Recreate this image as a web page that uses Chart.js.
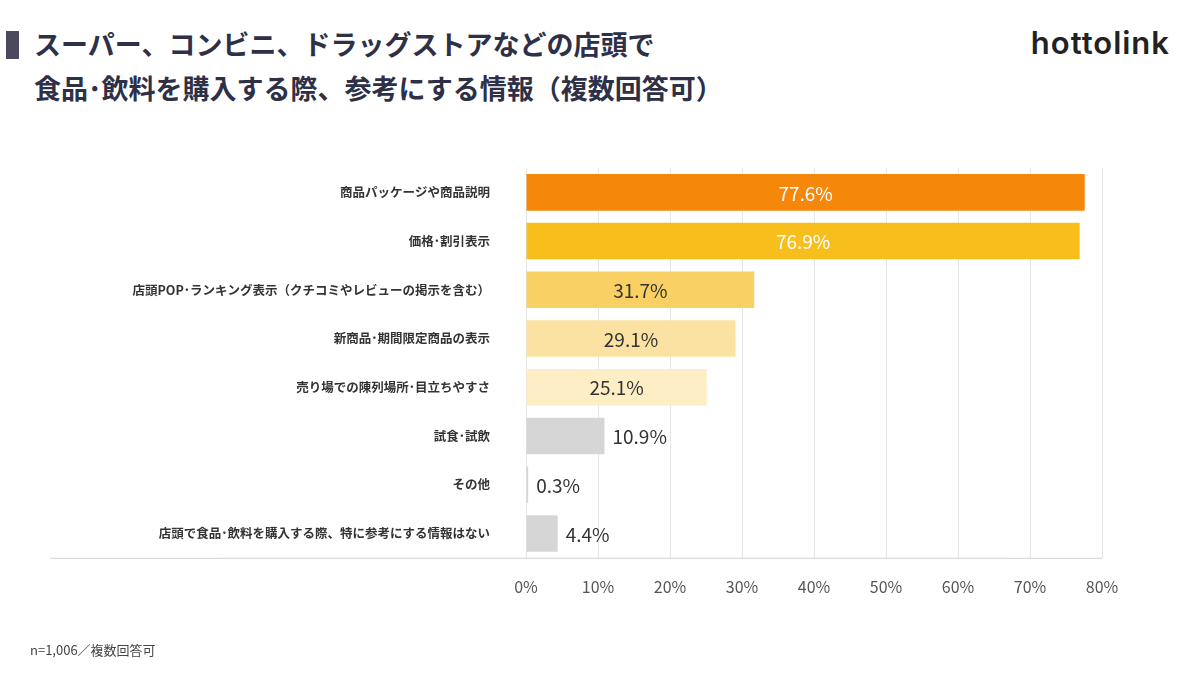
<!DOCTYPE html>
<html><head><meta charset="utf-8">
<script src="https://cdn.jsdelivr.net/npm/chart.js@4/dist/chart.umd.min.js"></script>
<style>
body{margin:0;background:#fff;font-family:"Noto Sans CJK JP",sans-serif;color:#2d3047}
#wrap{position:relative;width:1200px;height:675px;overflow:hidden}
#title{position:absolute;left:6px;top:22px;font-size:27px;font-weight:bold;line-height:44px;padding-left:28px}
#title:before{content:"";position:absolute;left:0;top:9px;width:13px;height:28px;background:#4a4a5c}
#logo{position:absolute;right:30px;top:24px;font-family:Inter,sans-serif;font-size:31px;font-weight:600;color:#222;letter-spacing:1px}
#note{position:absolute;left:30px;top:640px;font-size:13px;color:#444}
canvas{position:absolute;left:0;top:0}
</style></head><body>
<div id="wrap">
<div id="title">スーパー、コンビニ、ドラッグストアなどの店頭で<br>食品･飲料を購入する際、参考にする情報（複数回答可）</div>
<div id="logo">hottolink</div>
<canvas id="c" width="1200" height="675"></canvas>
<div id="note">n=1,006／複数回答可</div>
</div>
<script>
const categories = ['商品パッケージや商品説明','価格･割引表示','店頭POP･ランキング表示（クチコミやレビューの掲示を含む）','新商品･期間限定商品の表示','売り場での陳列場所･目立ちやすさ','試食･試飲','その他','店頭で食品･飲料を購入する際、特に参考にする情報はない'];
const values = [77.6, 76.9, 31.7, 29.1, 25.1, 10.9, 0.3, 4.4];
const barColors = ['#f5880a','#f8be1c','#f9d063','#fbe2a2','#fdeec6','#d6d6d6','#d6d6d6','#d6d6d6'];
const xTicks = [0,10,20,30,40,50,60,70,80];

const labelPlugin = {
  id: 'labels',
  afterDatasetsDraw(chart) {
    const ctx = chart.ctx;
    const meta = chart.getDatasetMeta(0);
    ctx.save();
    ctx.font = '19px "Noto Sans CJK JP"';
    ctx.textBaseline = 'middle';
    meta.data.forEach((bar, i) => {
      const txt = values[i].toFixed(1) + '%';
      const w = bar.x - bar.base;
      if (values[i] >= 20) {
        ctx.fillStyle = i < 2 ? '#fff' : '#333';
        ctx.textAlign = 'center';
        ctx.fillText(txt, bar.base + w / 2, bar.y + 1);
      } else {
        ctx.fillStyle = '#333';
        ctx.textAlign = 'left';
        ctx.fillText(txt, bar.x + 8, bar.y + 1);
      }
    });
    const a = chart.chartArea;
    ctx.strokeStyle = '#d0d0d0';
    ctx.lineWidth = 1;
    ctx.beginPath();
    ctx.moveTo(50, a.bottom + 0.5);
    ctx.lineTo(a.right, a.bottom + 0.5);
    ctx.stroke();
    ctx.restore();
  }
};

new Chart(document.getElementById('c'), {
  type: 'bar',
  data: {
    labels: categories,
    datasets: [{ data: values, backgroundColor: barColors, barPercentage: 0.75, categoryPercentage: 1 }]
  },
  options: {
    indexAxis: 'y',
    responsive: false,
    animation: false,
    layout: { padding: { top: 168, right: 98, bottom: 58, left: 0 } },
    plugins: { legend: { display: false }, tooltip: { enabled: false } },
    scales: {
      x: {
        min: 0, max: 80,
        afterBuildTicks: s => { s.ticks = xTicks.map(v => ({ value: v })); },
        grid: { color: '#e6e6e6', drawTicks: false },
        border: { display: false },
        ticks: { color: '#555', font: { size: 16, family: '"Noto Sans CJK JP"' }, padding: 20, callback: v => v + '%' }
      },
      y: {
        grid: { display: false },
        border: { display: false },
        afterFit: s => { s.width = 526; },
        ticks: { color: '#333', font: { size: 12.5, family: '"Noto Sans CJK JP"', weight: 'bold' }, padding: 28 }
      }
    }
  },
  plugins: [labelPlugin]
});
</script>
</body></html>
